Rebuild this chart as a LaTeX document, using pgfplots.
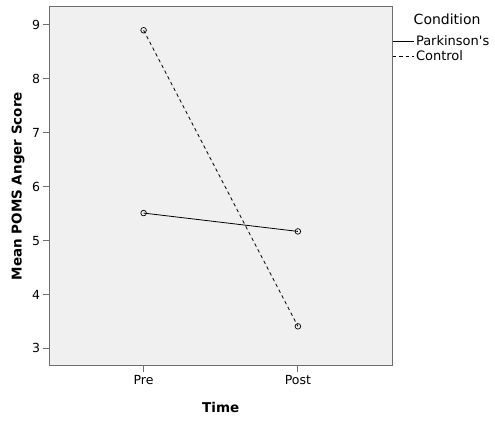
\documentclass[border=0pt]{standalone}
\usepackage{pgfplots}
\pgfplotsset{compat=1.18}
\usepackage{fontspec}
\setmainfont{DejaVu Sans}

\definecolor{plotbg}{RGB}{240,240,240}
\definecolor{boxgray}{RGB}{110,110,110}

\begin{document}
\begin{tikzpicture}
\useasboundingbox (-49.5pt,-55.3pt) rectangle (445.5pt,365.7pt);
\begin{axis}[
    scale only axis,
    width=342.5pt, height=359.2pt,
    clip=false,
    xmin=-0.61, xmax=1.61,
    ymin=2.68, ymax=9.34,
    xtick={0,1}, xticklabels={Pre,Post},
    ytick={3,4,5,6,7,8,9},
    xtick pos=bottom, ytick pos=left,
    tick align=outside,
    major tick length=6pt,
    axis background/.style={fill=plotbg},
    axis line style={boxgray, line width=1pt},
    every tick/.style={boxgray, line width=1pt},
    tick label style={font=\fontsize{12.5}{14}\selectfont},
    /pgf/number format/assume math mode=true,
    xlabel={Time}, ylabel={Mean POMS Anger Score},
    every axis x label/.style={at={(axis description cs:0.5,-0.115)}, anchor=center,
        font=\fontsize{13.5}{15}\selectfont\bfseries},
    every axis y label/.style={at={(axis description cs:-0.092,0.5)}, rotate=90, anchor=center,
        font=\fontsize{13.5}{15}\selectfont\bfseries},
    legend style={draw=none, fill=none, at={(1.0,0.925)}, anchor=north west,
        font=\fontsize{13}{15.5}\selectfont, inner sep=0pt, row sep=0pt,
        cells={anchor=west}},
    legend image code/.code={\draw[#1] (0pt,0pt) -- (21pt,0pt);},
]
\addplot[black, line width=0.8pt, mark=o, mark size=2.8pt,
    mark options={solid, fill=white, draw=black, line width=0.7pt}]
    coordinates {(0,5.51) (1,5.17)};
\addlegendentry{Parkinson\textquotesingle s}
\addplot[black, line width=0.8pt, dash pattern=on 3.5pt off 3pt, mark=o, mark size=2.8pt,
    mark options={solid, fill=white, draw=black, line width=0.7pt}]
    coordinates {(0,8.90) (1,3.41)};
\addlegendentry{Control}
\node[anchor=center, font=\fontsize{14}{16}\selectfont]
    at (rel axis cs:1.161,0.964) {Condition};
\end{axis}
\end{tikzpicture}
\end{document}
